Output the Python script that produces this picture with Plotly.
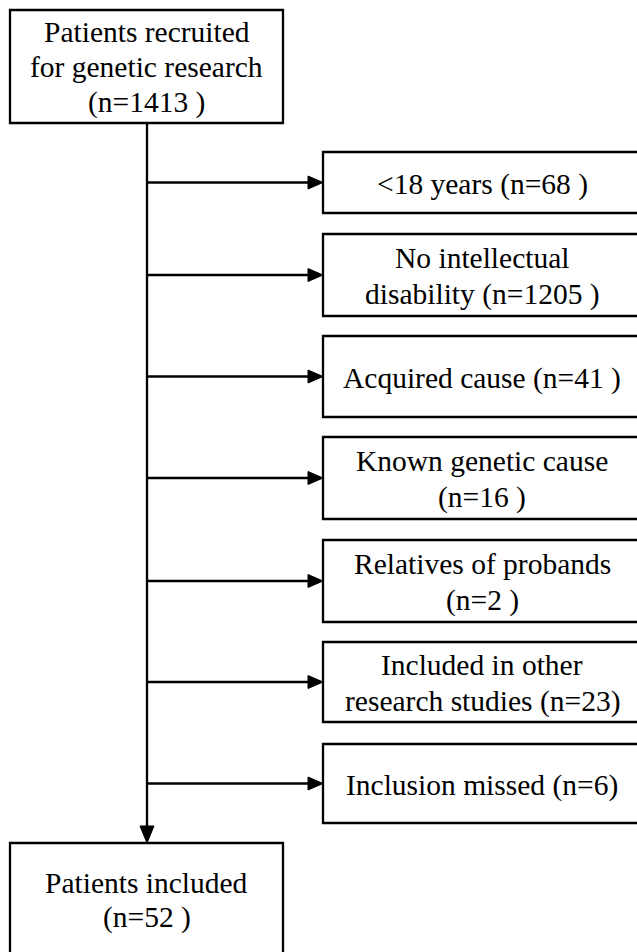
import plotly.graph_objects as go

# ---- data ----
top_label = ["Patients recruited", "for genetic research", "(n=1413 )"]
exclusion_labels = [
    ["<18 years (n=68 )"],
    ["No intellectual", "disability (n=1205 )"],
    ["Acquired cause (n=41 )"],
    ["Known genetic cause", "(n=16 )"],
    ["Relatives of probands", "(n=2 )"],
    ["Included in other", "research studies (n=23)"],
    ["Inclusion missed (n=6)"],
]
bottom_label = ["Patients included", "(n=52 )"]

# ---- layout (pixel coordinates) ----
W, H = 637, 952
FONT = dict(family="Liberation Serif, Times New Roman, serif", size=29.5, color="black")
LW = 2.3
LINE_GAP = 36.5

top_box = (10, 10, 283, 123)
bottom_box = (10, 843, 283, 990)
side_x0, side_x1 = 323, 641
side_y = [(152, 213), (234, 316), (336, 417), (437, 519), (540, 622), (642, 722), (744, 823)]
trunk_x = 147

shapes = []
annotations = []

def add_box(x0, y0, x1, y1):
    shapes.append(dict(type="rect", x0=x0, y0=y0, x1=x1, y1=y1,
                       line=dict(color="black", width=LW), fillcolor="white", layer="below"))

def add_text(lines, cx, cy, gap=LINE_GAP):
    n = len(lines)
    for i, t in enumerate(lines):
        y = cy + (i - (n - 1) / 2) * gap
        annotations.append(dict(x=cx, y=y, text=t, showarrow=False, xanchor="center",
                                yanchor="middle", font=FONT, xref="x", yref="y"))

def arrow_head(tx, ty, direction, length, width):
    if direction == "right":
        p = f"M {tx},{ty} L {tx-length},{ty-width/2} L {tx-length},{ty+width/2} Z"
    else:
        p = f"M {tx},{ty} L {tx-width/2},{ty-length} L {tx+width/2},{ty-length} Z"
    shapes.append(dict(type="path", path=p, fillcolor="black", line=dict(color="black", width=1)))

# top box
add_box(*top_box)
add_text(top_label, (top_box[0] + top_box[2]) / 2, (top_box[1] + top_box[3]) / 2 + 0.5, gap=35.5)

# trunk
shapes.append(dict(type="line", x0=trunk_x, y0=top_box[3], x1=trunk_x, y1=bottom_box[1] - 14,
                   line=dict(color="black", width=LW)))
arrow_head(trunk_x, bottom_box[1], "down", 17, 14)

# side boxes
for lab, (y0, y1) in zip(exclusion_labels, side_y):
    add_box(side_x0, y0, side_x1, y1)
    cy = (y0 + y1) / 2
    add_text(lab, (side_x0 + side_x1) / 2, cy + 1.5)
    shapes.append(dict(type="line", x0=trunk_x, y0=cy, x1=side_x0 - 12, y1=cy,
                       line=dict(color="black", width=LW)))
    arrow_head(side_x0, cy, "right", 15, 13)

# bottom box
add_box(*bottom_box)
add_text(bottom_label, (bottom_box[0] + bottom_box[2]) / 2, 900, gap=35)

fig = go.Figure()
fig.update_layout(
    width=W, height=H, margin=dict(l=0, r=0, t=0, b=0),
    paper_bgcolor="white", plot_bgcolor="white",
    xaxis=dict(range=[0, W], visible=False, fixedrange=True),
    yaxis=dict(range=[H, 0], visible=False, fixedrange=True),
    shapes=shapes, annotations=annotations, showlegend=False,
)
fig.write_html("out.html", config={"displayModeBar": False},
               post_script="document.body.style.margin='0';document.body.style.overflow='hidden';")
